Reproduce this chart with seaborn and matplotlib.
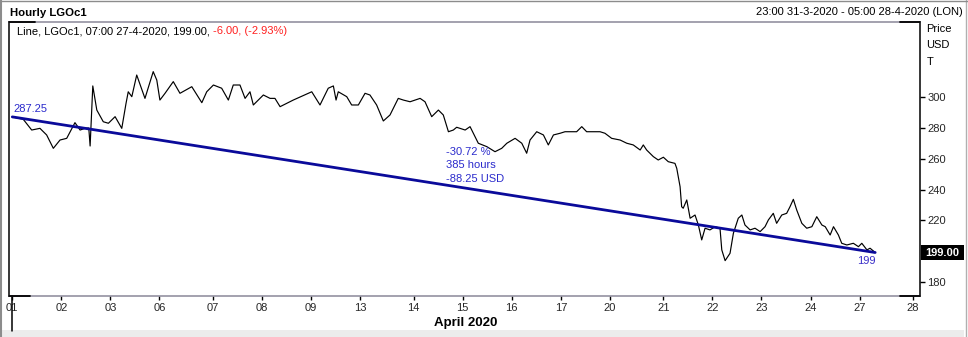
import numpy as np
import pandas as pd
import matplotlib
matplotlib.use("Agg")
import matplotlib.pyplot as plt
from matplotlib.lines import Line2D
from matplotlib.patches import Rectangle
import seaborn as sns

# ---------------- data ----------------
hours = [0, 4.9, 8.7, 12.4, 15.4, 18.4, 21.4, 24.4, 28.1, 30.4, 32.6, 34.3, 34.9, 36.1,
         37.9, 40.8, 43.1, 46.1, 49.1, 51.0, 52.0, 53.6, 55.8, 59.5, 63.2, 64.8, 66.2,
         68.5, 72.2, 75.2, 80.5, 85.0, 87.2, 90.2, 93.9, 96.9, 99.1, 102.1, 104.4, 106.6,
         108.1, 112.6, 115.6, 117.8, 120.1, 126.0, 134.3, 138.0, 141.7, 144.0, 145.2,
         146.2, 150.0, 152.2, 155.2, 158.2, 160.4, 163.4, 166.4, 169.4, 173.1, 175.4,
         178.4, 182.9, 185.1, 188.1, 191.1, 193.3, 195.6, 197.8, 199.3, 203.1, 205.3,
         209.0, 212.8, 216.5, 219.5, 221.8, 225.5, 228.5, 230.7, 232.2, 235.2, 238.2,
         240.4, 242.7, 245.7, 247.9, 253.1, 255.4, 257.6, 263.6, 265.8, 268.8, 272.6,
         275.6, 278.5, 281.6, 283.0, 284.5, 287.5, 289.7, 292.0, 294.2, 297.2, 298.0,
         299.5, 300.2, 300.9, 302.5, 304.0, 306.2, 307.7, 309.2, 310.7, 312.9, 315.2,
         317.4, 318.2, 319.7, 321.9, 323.4, 325.6, 327.2, 328.6, 330.9, 333.1, 335.4,
         337.6, 339.1, 341.3, 342.8, 345.1, 347.3, 348.8, 350.3, 351.8, 354.1, 356.3,
         358.6, 360.8, 363.1, 364.6, 366.8, 368.3, 370.5, 372.0, 374.3, 377.2, 379.5,
         381.0, 383.3, 384.7, 387.0]
prices = [287.25, 285.7, 278.7, 279.8, 275.5, 266.8, 272.2, 273.3, 283.5, 278.7, 279.8, 280.0,
          268.3, 307.4, 291.7, 284.1, 283.1, 287.4, 279.8, 296.0, 303.6, 300.4, 314.5,
          299.3, 316.7, 311.2, 298.2, 302.6, 310.2, 302.6, 306.9, 296.5, 303.6, 308.0,
          305.9, 298.2, 308.0, 308.0, 299.3, 303.6, 295.0, 301.5, 299.3, 299.3, 293.9,
          298.2, 303.6, 295.0, 305.9, 307.4, 298.2, 303.6, 300.4, 295.0, 295.0, 302.6,
          301.5, 295.0, 284.6, 288.5, 299.3, 298.2, 297.1, 299.3, 297.1, 287.4, 291.7,
          288.5, 277.6, 278.7, 280.5, 278.7, 280.9, 270.1, 267.9, 264.6, 266.8, 270.1,
          273.3, 270.1, 263.6, 272.2, 277.6, 275.5, 269.0, 275.5, 276.6, 277.6, 277.6,
          280.9, 277.6, 277.6, 276.6, 273.3, 272.2, 270.1, 269.0, 265.7, 269.0, 265.7,
          261.4, 259.2, 261.0, 258.1, 257.0, 253.8, 241.8, 228.8, 227.8, 233.2, 221.3,
          223.4, 216.9, 207.2, 214.8, 213.7, 215.8, 214.8, 200.7, 193.7, 198.5, 211.5,
          221.3, 223.4, 216.9, 213.7, 214.8, 212.6, 215.8, 220.2, 224.5, 218.0, 223.4,
          224.5, 228.8, 233.6, 226.7, 218.0, 214.8, 215.8, 222.3, 216.9, 215.8, 210.4,
          215.8, 210.4, 205.0, 203.9, 205.0, 202.8, 205.0, 200.7, 201.8, 199.0]

trend_hours = [0, 387]
trend_prices = [287.25, 199.0]
duration_label = "385 hours"

day_ticks = [0, 22, 44, 66, 90, 112, 134, 156, 180, 202, 224, 246, 268, 292, 314, 336,
             358, 380, 404]
day_labels = ["01", "02", "03", "06", "07", "08", "09", "13", "14", "15", "16", "17",
              "20", "21", "22", "23", "24", "27", "28"]
price_ticks = [180, 220, 240, 260, 280, 300]
last_price = 199.00

# ---------------- figure ----------------
sns.set_style("white")
plt.rcParams["font.family"] = ["Liberation Sans", "DejaVu Sans"]
W, H = 968, 337
fig = plt.figure(figsize=(W / 100, H / 100), dpi=100)
fig.patch.set_facecolor("white")


def fx(px):
    return px / W


def fy(py):
    return 1 - py / H


ax = fig.add_axes([fx(9), fy(296), fx(920) - fx(9), fy(22) - fy(296)])
ax.set_facecolor("white")

df = pd.DataFrame({"hour": hours, "price": prices})
tdf = pd.DataFrame({"hour": trend_hours, "price": trend_prices})
sns.lineplot(data=df, x="hour", y="price", ax=ax, color="black", lw=0.85,
             estimator=None, sort=False)
sns.lineplot(data=tdf, x="hour", y="price", ax=ax, color="#0a0a9a", lw=2.0,
             estimator=None, sort=False)

ax.set_xlim(-1.48, 407.1)
ax.set_ylim(170.7, 349.0)
ax.set_xlabel("")
ax.set_ylabel("")

# spines
grey = "#8a8898"
for s in ["left", "right"]:
    ax.spines[s].set_color("black")
    ax.spines[s].set_linewidth(1.1)
for s in ["top", "bottom"]:
    ax.spines[s].set_color(grey)
    ax.spines[s].set_linewidth(1.1)
# black corner marks
for (x0, x1, y) in [(0, (35 - 9) / 911, 1), ((900 - 9) / 911, 1, 1),
                    (0, (30 - 9) / 911, 0), ((900 - 9) / 911, 1, 0)]:
    ax.add_line(Line2D([x0, x1], [y, y], transform=ax.transAxes, color="black",
                       lw=1.3, clip_on=False, zorder=5))

# x ticks
ax.set_xticks(day_ticks)
ax.set_xticklabels(day_labels)
ax.tick_params(axis="x", which="major", direction="out", length=3, width=1,
               color="black", labelsize=8, pad=2, bottom=True)
# month separator
ax.add_line(Line2D([day_ticks[0], day_ticks[0]], [0, -35 / 274],
                   transform=ax.get_xaxis_transform(), color="black", lw=1.1,
                   clip_on=False))

# y ticks on the right
ax.yaxis.tick_right()
ax.set_yticks(price_ticks)
ax.set_yticklabels([str(v) for v in price_ticks])
ax.tick_params(axis="y", which="major", direction="out", length=3.6, width=1,
               color="black", labelsize=8, pad=1.5, left=False, right=True)

# annotations
blue = "#2b2bcc"
ax.annotate(f"{trend_prices[0]:.2f}", xy=(trend_hours[0], trend_prices[0]),
            xytext=(1.5, 8), textcoords="offset pixels", ha="left", va="center",
            color=blue, fontsize=8)
ax.annotate(f"{trend_prices[1]:.0f}", xy=(trend_hours[1], trend_prices[1]),
            xytext=(0, -8), textcoords="offset pixels", ha="right", va="center",
            color="#3a2fc8", fontsize=8)
chg = trend_prices[1] - trend_prices[0]
pct = chg / trend_prices[0] * 100
mid = ((trend_hours[0] + trend_hours[1]) / 2, (trend_prices[0] + trend_prices[1]) / 2)
ax.annotate(f"{pct:.2f} %\n{duration_label}\n{chg:.2f} USD", xy=mid,
            xytext=(2, 1), textcoords="offset pixels", ha="left", va="bottom",
            color=blue, fontsize=8, linespacing=1.45)

# header texts
fig.text(fx(10), fy(13), "Hourly LGOc1", ha="left", va="center", fontsize=8.2,
         fontweight="bold", color="black")
fig.text(fx(963), fy(12), "23:00 31-3-2020 - 05:00 28-4-2020 (LON)", ha="right",
         va="center", fontsize=8, color="black")
t1 = fig.text(fx(17), fy(31), "Line, LGOc1, 07:00 27-4-2020, 199.00, ", ha="left",
              va="center", fontsize=8, color="black")
ax.annotate("-6.00, (-2.93%)", xy=(1, 0), xycoords=t1, ha="left", va="bottom",
            fontsize=8, color="#ff2020", annotation_clip=False)

for txt, py in [("Price", 29.5), ("USD", 44.5), ("T", 62)]:
    fig.text(fx(926.5), fy(py), txt, ha="left", va="center", fontsize=8, color="black")

# last price box
fig.add_artist(Rectangle((fx(921), fy(260)), fx(964) - fx(921), fy(245) - fy(260),
                         transform=fig.transFigure, facecolor="black",
                         edgecolor="none", zorder=10))
fig.text(fx(942.5), fy(252.5), f"{last_price:.2f}", ha="center", va="center",
         fontsize=8, fontweight="bold", color="white", zorder=11)

fig.text(fx(497), fy(323), "April 2020", ha="right", va="center", fontsize=9.5,
         fontweight="bold", color="black")

# outer frame decorations
fig.add_artist(Rectangle((fx(2), 0), fx(964) - fx(2), 7 / H, transform=fig.transFigure,
                         facecolor="#ececec", edgecolor="none", zorder=0))
fig.add_artist(Line2D([fx(1), fx(1)], [0, 1], transform=fig.transFigure,
                      color="#8c8c8c", lw=1.5))
fig.add_artist(Line2D([fx(965.5), fx(965.5)], [0, 1], transform=fig.transFigure,
                      color="#b0b0b0", lw=1.0))
fig.add_artist(Line2D([0, 1], [fy(0.5), fy(0.5)], transform=fig.transFigure,
                      color="#8c8c8c", lw=1.0))

fig.savefig("out.png", dpi=100)
